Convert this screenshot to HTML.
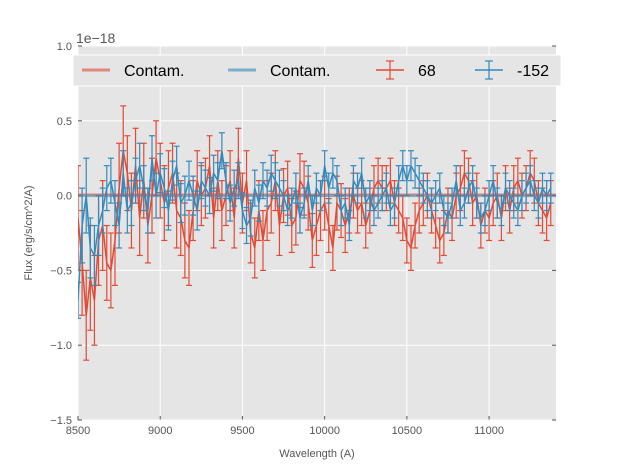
<!DOCTYPE html>
<html><head><meta charset="utf-8"><style>
body{margin:0;background:#fff;font-family:"Liberation Sans",sans-serif}
svg text{font-family:"Liberation Sans",sans-serif}
</style></head><body>
<svg width="617" height="467" xmlns="http://www.w3.org/2000/svg">
<g id="root"></g>
</svg>
<script>
const xTicks=[8500,9000,9500,10000,10500,11000];
const yTicks=[1.0,0.5,0.0,-0.5,-1.0,-1.5];
const yTickLabels=["1.0","0.5","0.0","\u22120.5","\u22121.0","\u22121.5"];
const waveStart=8500, waveStep=25;
const redFlux=[-0.15,-0.45,-0.8,-0.55,-0.7,-0.3,-0.2,-0.45,-0.5,-0.3,
0.05,0.3,0.15,-0.1,0.2,-0.15,0.1,-0.2,0.0,0.25,
0.1,-0.05,0.05,0.15,-0.1,-0.15,-0.3,-0.35,-0.1,0.1,
0.0,0.05,0.2,-0.15,0.1,-0.1,0.0,0.1,-0.15,0.25,
-0.05,0.1,-0.25,-0.35,-0.1,-0.3,-0.1,-0.05,0.1,-0.2,
0.0,0.05,-0.2,-0.15,0.1,0.05,-0.05,-0.3,-0.2,-0.1,
-0.05,-0.2,-0.35,-0.05,-0.1,-0.2,-0.1,0.0,-0.1,-0.05,
-0.2,-0.1,0.05,0.1,0.05,0.05,0.1,-0.05,-0.1,-0.15,
-0.3,-0.35,-0.2,-0.1,-0.05,0.0,-0.1,-0.2,-0.3,-0.25,
-0.1,-0.15,0.0,0.05,0.15,0.1,-0.05,0.0,-0.2,-0.1,
-0.15,-0.05,0.0,-0.15,0.05,-0.1,0.05,0.1,0.0,0.05,
0.15,0.1,-0.05,-0.1,-0.15,-0.05];
const redErr=[0.35,0.35,0.3,0.35,0.3,0.3,0.3,0.25,0.25,0.3,
0.3,0.3,0.25,0.25,0.25,0.25,0.25,0.25,0.25,0.25,
0.25,0.25,0.25,0.2,0.25,0.25,0.25,0.25,0.2,0.2,
0.2,0.2,0.2,0.2,0.2,0.2,0.2,0.2,0.2,0.2,
0.2,0.2,0.2,0.2,0.2,0.2,0.2,0.2,0.2,0.2,
0.18,0.18,0.18,0.18,0.18,0.18,0.18,0.18,0.2,0.2,
0.18,0.18,0.15,0.18,0.18,0.18,0.15,0.15,0.15,0.15,
0.15,0.15,0.15,0.15,0.15,0.15,0.15,0.15,0.15,0.15,
0.15,0.15,0.15,0.15,0.15,0.15,0.15,0.15,0.15,0.15,
0.15,0.15,0.15,0.15,0.15,0.15,0.15,0.15,0.15,0.15,
0.15,0.15,0.15,0.15,0.15,0.15,0.15,0.15,0.15,0.15,
0.15,0.15,0.15,0.15,0.15,0.15];
const blueFlux=[-0.7,-0.2,0.0,-0.35,-0.4,-0.2,-0.1,0.05,0.1,-0.05,
-0.2,0.15,-0.1,-0.05,0.1,0.2,0.05,-0.1,0.25,0.0,
0.15,0.05,-0.1,0.1,0.2,-0.05,0.0,0.1,0.0,-0.1,
0.1,0.05,0.0,0.15,0.1,0.3,0.1,-0.05,0.05,0.1,
-0.1,-0.2,-0.15,0.05,-0.05,0.1,0.05,0.15,0.1,0.05,
0.0,-0.1,-0.05,0.05,-0.15,-0.05,0.1,-0.1,0.05,0.0,
0.2,0.05,0.15,0.1,-0.1,-0.05,-0.2,0.1,0.05,0.15,
-0.05,0.0,-0.1,-0.05,0.0,0.05,-0.1,-0.05,0.1,0.2,
0.1,0.2,0.15,0.1,0.05,0.0,-0.05,0.0,0.05,-0.1,
-0.15,-0.05,0.1,-0.1,-0.05,0.05,0.1,-0.05,-0.15,-0.1,
0.0,0.1,-0.05,-0.1,0.05,0.0,-0.05,-0.1,0.0,0.05,
0.1,0.0,-0.05,0.05,0.0,0.05];
const blueErr=[0.12,0.25,0.25,0.2,0.2,0.2,0.15,0.15,0.15,0.15,
0.15,0.15,0.15,0.15,0.15,0.15,0.15,0.15,0.15,0.15,
0.13,0.13,0.13,0.13,0.13,0.13,0.13,0.13,0.13,0.13,
0.12,0.12,0.12,0.12,0.12,0.12,0.12,0.12,0.12,0.12,
0.12,0.12,0.12,0.12,0.12,0.12,0.12,0.12,0.12,0.12,
0.1,0.1,0.1,0.1,0.1,0.1,0.1,0.1,0.1,0.1,
0.1,0.1,0.1,0.1,0.1,0.1,0.1,0.1,0.1,0.1,
0.1,0.1,0.1,0.1,0.1,0.1,0.1,0.1,0.1,0.1,
0.1,0.1,0.1,0.1,0.1,0.1,0.1,0.1,0.1,0.1,
0.1,0.1,0.1,0.1,0.1,0.1,0.1,0.1,0.1,0.1,
0.1,0.1,0.1,0.1,0.1,0.1,0.1,0.1,0.1,0.1,
0.1,0.1,0.1,0.1,0.1,0.1];
const contamLevel=[0.005,0.0];

const L=78,R=556,T=46,B=420,xmin=8500,xmax=11407,ymin=-1.5,ymax=1.0;
const X=v=>L+(v-xmin)/(xmax-xmin)*(R-L);
const Y=v=>B-(v-ymin)/(ymax-ymin)*(B-T);
const NS="http://www.w3.org/2000/svg";
const root=document.getElementById('root');
function mk(tag,attrs,parent){const e=document.createElementNS(NS,tag);for(const k in attrs)e.setAttribute(k,attrs[k]);(parent||root).appendChild(e);return e;}

const bg=mk('rect',{x:L,y:T,width:R-L,height:B-T,fill:'#e5e5e5'});


const clip=mk('clipPath',{id:'c'});mk('rect',{x:L,y:T,width:R-L,height:B-T},clip);

xTicks.forEach(t=>{
  const g=mk('line',{x1:X(t),x2:X(t),y1:T,y2:B,stroke:'#fff','stroke-width':1});
  
  
  mk('line',{x1:X(t),x2:X(t),y1:B,y2:B-4,stroke:'#555'});
  const tx=mk('text',{x:X(t),y:B+14,'font-size':11,fill:'#555','text-anchor':'middle'});
  tx.textContent=t;
  
  
});
yTicks.forEach((t,i)=>{
  const g=mk('line',{x1:L,x2:R,y1:Y(t),y2:Y(t),stroke:'#fff','stroke-width':1});
  
  
  mk('line',{x1:L,x2:L+4,y1:Y(t),y2:Y(t),stroke:'#555'});
  mk('line',{x1:R,x2:R-4,y1:Y(t),y2:Y(t),stroke:'#555'});
  const tx=mk('text',{x:L-6,y:Y(t)+4,'font-size':11,fill:'#555','text-anchor':'end'});
  tx.textContent=yTickLabels[i];
  
  
});

const plot=mk('g',{'clip-path':'url(#c)'});
function series(flux,err,color,name){
  const g=mk('g',{},plot);
  
  
  flux.forEach((v,i)=>{
    const x=X(waveStart+waveStep*i),y1=Y(v-err[i]),y2=Y(v+err[i]);
    mk('line',{x1:x,x2:x,y1:y1,y2:y2,stroke:color,'stroke-width':1.2},g);
    mk('line',{x1:x-3,x2:x+3,y1:y1,y2:y1,stroke:color,'stroke-width':1.2},g);
    mk('line',{x1:x-3,x2:x+3,y1:y2,y2:y2,stroke:color,'stroke-width':1.2},g);
  });
  const pts=flux.map((v,i)=>X(waveStart+waveStep*i)+','+Y(v)).join(' ');
  mk('polyline',{points:pts,fill:'none',stroke:color,'stroke-width':1.5},g);
}
series(redFlux,redErr,'#E24A33','series-68');
series(blueFlux,blueErr,'#348ABD','series-minus-152');
const c1=mk('line',{x1:L,x2:R,y1:Y(contamLevel[0]),y2:Y(contamLevel[0]),stroke:'#E24A33','stroke-opacity':0.5,'stroke-width':3},plot);


const c2=mk('line',{x1:L,x2:R,y1:Y(contamLevel[1]),y2:Y(contamLevel[1]),stroke:'#348ABD','stroke-opacity':0.5,'stroke-width':3},plot);



const off=mk('text',{x:76,y:43,'font-size':14,fill:'#555'});
off.textContent='1e\u221218';


const xl=mk('text',{x:(L+R)/2,y:457,'font-size':11,fill:'#555','text-anchor':'middle'});
xl.textContent='Wavelength (A)';


const yl=mk('text',{x:32,y:(T+B)/2,'font-size':11,fill:'#555','text-anchor':'middle',transform:'rotate(-90 32 '+((T+B)/2)+')'});
yl.textContent='Flux (erg/s/cm^2/A)';



const lg=mk('g',{});


mk('rect',{x:73,y:55,width:488,height:31,fill:'#e5e5e5',stroke:'#fff','stroke-width':1},lg);
const entries=[["Contam.",'#E24A33','line',82],["Contam.",'#348ABD','line',228],["68",'#E24A33','err',376],["-152",'#348ABD','err',475]];
entries.forEach(e=>{
  const g=mk('g',{},lg);
  
  
  const x=e[3],y=70;
  if(e[2]==='line'){mk('line',{x1:x,x2:x+28,y1:y,y2:y,stroke:e[1],'stroke-opacity':0.6,'stroke-width':3},g);}
  else{
    mk('line',{x1:x,x2:x+28,y1:y,y2:y,stroke:e[1],'stroke-width':1.5},g);
    mk('line',{x1:x+14,x2:x+14,y1:y-9,y2:y+9,stroke:e[1],'stroke-width':1.2},g);
    mk('line',{x1:x+10,x2:x+18,y1:y-9,y2:y-9,stroke:e[1],'stroke-width':1.2},g);
    mk('line',{x1:x+10,x2:x+18,y1:y+9,y2:y+9,stroke:e[1],'stroke-width':1.2},g);
  }
  const t=mk('text',{x:x+42,y:y+6,'font-size':16,fill:'#000'},g);
  t.textContent=e[0];
});
</script>
</body></html>
